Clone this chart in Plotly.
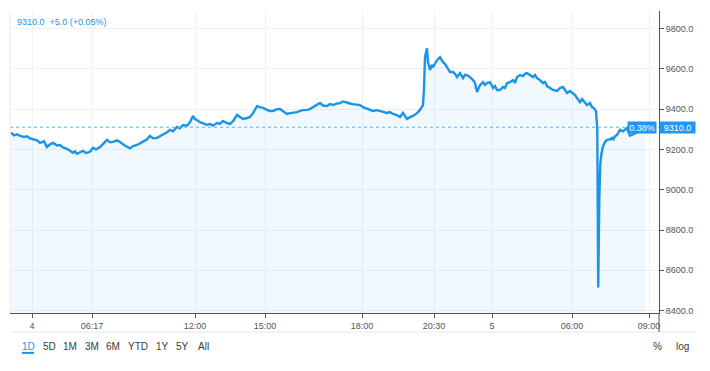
import plotly.graph_objects as go

# ---- data (bar index along the time axis, price) ----
bar_idx = [1, 4, 7, 10, 14, 17, 20, 23, 27, 30, 34, 37, 40, 43, 47, 50, 53, 57, 60, 63,
           65, 67, 70, 73, 76, 80, 83, 86, 90, 93, 97, 100, 103, 107, 110, 114, 117, 120, 123, 127,
           130, 133, 137, 140, 143, 147, 150, 153, 157, 160, 163, 167, 170, 173, 177, 180, 183, 185, 187, 190,
           193, 197, 200, 203, 207, 210, 213, 217, 220, 223, 227, 230, 233, 237, 240, 243, 247, 250, 253, 257,
           260, 263, 267, 270, 273, 277, 280, 283, 287, 290, 293, 297, 300, 303, 307, 310, 313, 317, 320, 323,
           327, 330, 333, 337, 340, 343, 347, 350, 353, 357, 360, 363, 367, 370, 373, 377, 380, 383, 387, 390,
           393, 395, 397, 400, 403, 407, 410, 413, 414, 415, 416, 417, 418, 420, 422, 423, 425, 427, 430, 433,
           435, 437, 440, 443, 445, 447, 450, 453, 455, 457, 460, 463, 465, 467, 470, 473, 475, 477, 480, 483,
           485, 487, 490, 493, 495, 497, 500, 503, 505, 507, 510, 513, 515, 517, 520, 523, 525, 527, 530, 533,
           535, 537, 540, 543, 547, 550, 553, 555, 557, 560, 563, 565, 567, 570, 572, 573, 575, 577, 580, 582,
           584, 586, 587.3, 588.2, 589.3, 590.3, 591.5, 593, 595, 597, 600, 602, 603, 605, 607, 610, 613, 615, 617, 620,
           623, 625, 627, 630, 633, 635]
price = [9283, 9270, 9275, 9267, 9262, 9265, 9255, 9252, 9245, 9232, 9240, 9212, 9225, 9232, 9220, 9222, 9210, 9203, 9195, 9183,
         9190, 9178, 9186, 9193, 9182, 9188, 9208, 9200, 9212, 9225, 9247, 9235, 9237, 9245, 9237, 9222, 9212, 9205, 9217, 9222,
         9230, 9237, 9250, 9267, 9255, 9257, 9265, 9272, 9285, 9297, 9290, 9312, 9305, 9321, 9318, 9336, 9366, 9350, 9346, 9335,
         9331, 9322, 9326, 9318, 9331, 9328, 9341, 9330, 9326, 9340, 9371, 9360, 9351, 9356, 9361, 9380, 9415, 9410, 9406, 9396,
         9391, 9391, 9400, 9401, 9390, 9376, 9380, 9381, 9385, 9391, 9395, 9396, 9400, 9410, 9420, 9430, 9418, 9415, 9425, 9420,
         9428, 9430, 9438, 9430, 9428, 9425, 9420, 9420, 9410, 9401, 9395, 9391, 9395, 9391, 9385, 9381, 9385, 9376, 9370, 9361,
         9381, 9365, 9351, 9360, 9366, 9380, 9396, 9420, 9500, 9658, 9680, 9702, 9633, 9594, 9620, 9608, 9625, 9643, 9658, 9633,
         9625, 9608, 9584, 9584, 9575, 9559, 9579, 9554, 9570, 9569, 9559, 9544, 9530, 9485, 9519, 9534, 9520, 9529, 9534, 9505,
         9515, 9495, 9495, 9510, 9505, 9529, 9534, 9544, 9530, 9559, 9569, 9564, 9575, 9579, 9569, 9559, 9570, 9554, 9544, 9529,
         9535, 9514, 9505, 9495, 9490, 9505, 9510, 9495, 9480, 9490, 9480, 9470, 9455, 9435, 9450, 9445, 9430, 9420, 9430, 9410,
         9405, 9390, 9300, 8515, 8950, 9130, 9180, 9215, 9237, 9247, 9250, 9257, 9247, 9265, 9272, 9297, 9290, 9300, 9306, 9268,
         9275, 9282, 9285, 9290, 9297, 9310]

tick_bars = [22, 82, 185, 255, 352, 424, 482, 562, 639]
tick_labels = ["4", "06:17", "12:00", "15:00", "18:00", "20:30", "5", "06:00", "09:00"]
y_ticks = [8400, 8600, 8800, 9000, 9200, 9400, 9600, 9800]

last_price = 9310.0
header_text = "9310.0  +5.0 (+0.05%)"
pct_text = "0.38%"
range_buttons = ["1D", "5D", "1M", "3M", "6M", "YTD", "1Y", "5Y", "All"]
button_px = [18, 39, 60, 82, 103, 128, 152, 172, 193]

BLUE = "#1a94e6"
FONT = "Liberation Sans"

fig = go.Figure()
fig.add_trace(go.Scatter(
    x=bar_idx, y=price, mode="lines",
    line=dict(color=BLUE, width=2.4),
    fill="tozeroy", fillcolor="rgba(33,150,243,0.06)",
    hoverinfo="skip", showlegend=False,
))

fig.update_layout(
    width=710, height=371,
    margin=dict(l=10, r=51, t=11, b=58),
    paper_bgcolor="white", plot_bgcolor="white",
    font=dict(family=FONT, size=9, color="#4a4a4a"),
    xaxis=dict(
        range=[0, 649], tickmode="array", tickvals=tick_bars, ticktext=tick_labels,
        showgrid=True, gridcolor="#eef0f3", gridwidth=1,
        showline=True, linecolor="#50535e", linewidth=1,
        ticks="outside", ticklen=4, tickcolor="#50535e",
        tickfont=dict(size=9, color="#555555"), zeroline=False, fixedrange=True,
    ),
    yaxis=dict(
        side="right", range=[8388, 9887], tickmode="array", tickvals=y_ticks,
        tickformat=".1f",
        showgrid=True, gridcolor="#eef0f3", gridwidth=1,
        showline=True, linecolor="#50535e", linewidth=1,
        ticks="outside", ticklen=4, tickcolor="#50535e",
        tickfont=dict(size=9, color="#555555"), zeroline=False, fixedrange=True,
    ),
)

# last-price dotted line
fig.add_hline(y=last_price, line=dict(color="#5bb4f0", width=1, dash="dot"))

# left border & separator / axis extension
fig.add_shape(type="line", xref="paper", yref="paper", x0=0, x1=0, y0=0, y1=1,
              line=dict(color="#e8eaee", width=1))
fig.add_shape(type="line", xref="paper", yref="paper", x0=0, x1=1.0555, y0=-0.063, y1=-0.063,
              line=dict(color="#e6e8ec", width=1))
fig.add_shape(type="line", xref="paper", yref="paper", x0=1, x1=1, y0=-0.063, y1=0,
              line=dict(color="#50535e", width=1))

# header
fig.add_annotation(xref="paper", yref="paper", x=0, y=1, xanchor="left", yanchor="middle",
                   xshift=5, yshift=-11, text=header_text, showarrow=False,
                   font=dict(family=FONT, size=9, color=BLUE))

# price labels on axis
fig.add_annotation(xref="paper", yref="y", x=1, y=last_price, xanchor="left", yanchor="middle",
                   text=f"{last_price:.1f}", showarrow=False, bgcolor="#2196f3",
                   width=35, height=11, borderpad=0, font=dict(family=FONT, size=9, color="white"))
fig.add_annotation(xref="paper", yref="y", x=1, y=last_price, xanchor="right", yanchor="middle",
                   xshift=-2, text=pct_text, showarrow=False, bgcolor="#2196f3",
                   width=28, height=11, borderpad=0, font=dict(family=FONT, size=9, color="white"))

# range buttons
for lbl, px in zip(range_buttons, button_px):
    fig.add_annotation(xref="paper", yref="paper", x=0, y=0, xanchor="center", yanchor="middle",
                       xshift=px, yshift=-33, text=lbl, showarrow=False,
                       font=dict(family=FONT, size=10, color=BLUE if lbl == "1D" else "#3a3a3a"))
fig.add_shape(type="line", xref="paper", yref="paper", x0=12 / 649, x1=24 / 649,
              y0=-0.132, y1=-0.132, line=dict(color=BLUE, width=2))

fig.add_annotation(xref="paper", yref="paper", x=1, y=0, xanchor="center", yanchor="middle",
                   xshift=-2, yshift=-33, text="%", showarrow=False,
                   font=dict(family=FONT, size=10, color="#3a3a3a"))
fig.add_annotation(xref="paper", yref="paper", x=1, y=0, xanchor="center", yanchor="middle",
                   xshift=23, yshift=-33, text="log", showarrow=False,
                   font=dict(family=FONT, size=10, color="#3a3a3a"))

fig.write_html("out.html")
